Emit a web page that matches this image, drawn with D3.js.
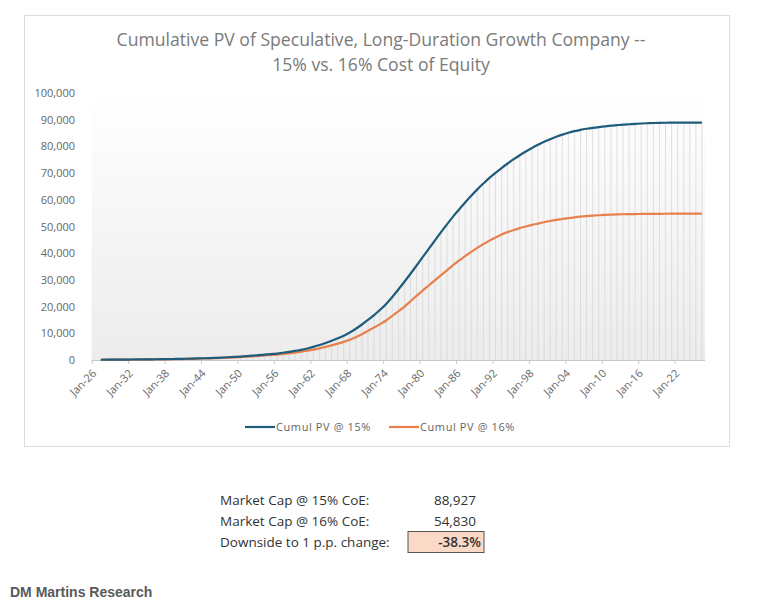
<!DOCTYPE html>
<html>
<head>
<meta charset="utf-8">
<script src="https://cdn.jsdelivr.net/npm/d3@7"></script>
<style>
  body { margin: 0; background: #fff; }
  svg { display: block; }
</style>
</head>
<body>
<div id="chart"></div>
<script>
// yearly data points, 2027 .. 2126
var startYear = 2027;
var years = d3.range(startYear, startYear + 100);

var pv15 = [
  100, 115, 130, 150, 165, 185, 205, 225, 250, 280,
  310, 340, 380, 420, 470, 520, 580, 650, 730, 820,
  920, 1030, 1160, 1300, 1460, 1630, 1820, 2020, 2220, 2420,
  2720, 3060, 3420, 3820, 4320, 4900, 5600, 6380, 7220, 8120,
  9100, 10300, 11700, 13300, 15000, 16800, 18800, 21000, 23600, 26400,
  29300, 32300, 35400, 38500, 41600, 44700, 47800, 50800, 53700, 56400,
  59000, 61500, 63900, 66100, 68200, 70100, 71900, 73600, 75200, 76700,
  78100, 79400, 80600, 81700, 82700, 83600, 84400, 85100, 85700, 86200,
  86600, 86950, 87250, 87500, 87750, 87950, 88150, 88300, 88450, 88580,
  88680, 88760, 88820, 88860, 88880, 88900, 88910, 88918, 88923, 88927
];

var pv16 = [
  90, 100, 115, 130, 145, 160, 175, 195, 215, 240,
  265, 290, 325, 360, 400, 445, 500, 560, 625, 700,
  780, 870, 980, 1100, 1230, 1370, 1520, 1680, 1840, 2000,
  2240, 2500, 2780, 3100, 3480, 3900, 4380, 4920, 5500, 6120,
  6800, 7600, 8550, 9650, 10900, 12150, 13450, 14800, 16500, 18200,
  20000, 22000, 24000, 26000, 27900, 29800, 31700, 33600, 35500, 37300,
  38900, 40500, 42000, 43400, 44700, 45900, 47000, 47900, 48700, 49400,
  50000, 50600, 51100, 51600, 52050, 52450, 52800, 53150, 53450, 53700,
  53900, 54080, 54220, 54340, 54440, 54520, 54580, 54630, 54670, 54700,
  54725, 54745, 54760, 54775, 54790, 54800, 54810, 54818, 54825, 54830
];

var xTicks = [2026, 2032, 2038, 2044, 2050, 2056, 2062, 2068, 2074, 2080, 2086, 2092, 2098, 2104, 2110, 2116, 2122];
var yTicks = [0, 10000, 20000, 30000, 40000, 50000, 60000, 70000, 80000, 90000, 100000];

var seriesNames = ['Cumul PV @ 15%', 'Cumul PV @ 16%'];
var seriesColors = ['#1f5c7c', '#e8804c'];

var titleLines = ['Cumulative  PV of Speculative, Long-Duration Growth Company --', '15% vs. 16% Cost of Equity'];

var tableLabels = ['Market Cap @ 15% CoE:', 'Market Cap @ 16% CoE:', 'Downside to 1 p.p. change:'];
var tableValues = ['88,927', '54,830', '-38.3%'];

var width = 784;
var height = 606;
var plotLeft = 91.7;
var plotRight = 705;
var plotTop = 93;
var plotBottom = 360;
var font = "'Open Sans', 'Liberation Sans', sans-serif";

var svg = d3.select('#chart').append('svg')
  .attr('width', width)
  .attr('height', height);

svg.append('rect')
  .attr('width', width)
  .attr('height', height)
  .attr('fill', '#fff');

// chart frame
svg.append('rect')
  .attr('x', 24.5)
  .attr('y', 15.5)
  .attr('width', 705)
  .attr('height', 431)
  .attr('fill', '#fff')
  .attr('stroke', '#dcdcdc');

var grad = svg.append('defs').append('linearGradient')
  .attr('id', 'plotBg')
  .attr('x1', 0).attr('y1', 0)
  .attr('x2', 0).attr('y2', 1);
grad.append('stop').attr('offset', '0%').attr('stop-color', '#ffffff');
grad.append('stop').attr('offset', '100%').attr('stop-color', '#ececec');

var x = d3.scaleLinear().domain([2026, 2127]).range([plotLeft, plotRight]);
var y = d3.scaleLinear().domain([0, 100000]).range([plotBottom, plotTop]);

svg.append('rect')
  .attr('x', plotLeft)
  .attr('y', plotTop)
  .attr('width', plotRight - plotLeft)
  .attr('height', plotBottom - plotTop)
  .attr('fill', 'url(#plotBg)');

var xPos = function (yr) {
  return x(yr + 0.5);
};

// title
svg.append('g').selectAll('text')
  .data(titleLines)
  .enter()
  .append('text')
  .attr('x', 381)
  .attr('y', function (d, i) { return 46 + i * 25; })
  .attr('text-anchor', 'middle')
  .attr('font-family', font)
  .attr('font-size', 17.6)
  .attr('fill', '#7a7a7a')
  .text(function (d) { return d; });

// drop lines
svg.append('g').selectAll('line')
  .data(years)
  .enter()
  .append('line')
  .attr('x1', function (d) { return xPos(d); })
  .attr('x2', function (d) { return xPos(d); })
  .attr('y1', function (d, i) { return y(Math.max(pv15[i], pv16[i])); })
  .attr('y2', plotBottom)
  .attr('stroke', '#d6d6d6')
  .attr('stroke-width', 0.75);

// y axis labels
var yAxis = d3.axisLeft(y)
  .tickValues(yTicks)
  .tickSize(0)
  .tickPadding(0)
  .tickFormat(d3.format(','));

svg.append('g')
  .attr('transform', 'translate(75,0)')
  .call(yAxis)
  .call(function (g) { g.select('.domain').remove(); })
  .selectAll('text')
  .attr('font-family', font)
  .attr('font-size', 11)
  .attr('fill', '#666');

// x axis
var xAxis = d3.axisBottom(x)
  .tickValues(xTicks)
  .tickSize(4)
  .tickFormat(function (d) { return 'Jan-' + String(d).slice(2); });

var gx = svg.append('g')
  .attr('transform', 'translate(0,' + plotBottom + ')')
  .call(xAxis);

gx.select('.domain')
  .attr('stroke', '#c8c8c8')
  .attr('d', 'M' + plotLeft + ',0.5H' + plotRight);
gx.selectAll('.tick line').attr('stroke', '#c8c8c8');
gx.selectAll('.tick text')
  .attr('font-family', font)
  .attr('font-size', 11)
  .attr('fill', '#666')
  .attr('text-anchor', 'end')
  .attr('dy', 0)
  .attr('y', 0)
  .attr('transform', 'translate(5,14) rotate(-45)');

// lines
var line = d3.line()
  .x(function (d, i) { return xPos(years[i]); })
  .y(function (d) { return y(d); })
  .curve(d3.curveMonotoneX);

[pv16, pv15].forEach(function (s, k) {
  svg.append('path')
    .datum(s)
    .attr('fill', 'none')
    .attr('stroke', seriesColors[1 - k])
    .attr('stroke-width', 2.2)
    .attr('stroke-linejoin', 'round')
    .attr('d', line);
});

// legend
var legendX = [245, 389];
var legend = svg.append('g').selectAll('g')
  .data(seriesNames)
  .enter()
  .append('g')
  .attr('transform', function (d, i) { return 'translate(' + legendX[i] + ',427)'; });

legend.append('line')
  .attr('x1', 0)
  .attr('x2', 30)
  .attr('stroke', function (d, i) { return seriesColors[i]; })
  .attr('stroke-width', 2.2);

legend.append('text')
  .attr('x', 31)
  .attr('dy', '0.35em')
  .attr('font-family', font)
  .attr('font-size', 11)
  .attr('letter-spacing', 0.6)
  .attr('fill', '#666')
  .text(function (d) { return d; });

// summary table
svg.append('rect')
  .attr('x', 408)
  .attr('y', 531.5)
  .attr('width', 76)
  .attr('height', 21)
  .attr('fill', '#fbd9c7')
  .attr('stroke', '#555');

var table = svg.append('g').attr('font-family', font).attr('font-size', 13.5).attr('fill', '#333');

table.selectAll('text.lbl')
  .data(tableLabels)
  .enter()
  .append('text')
  .attr('class', 'lbl')
  .attr('x', 220)
  .attr('y', function (d, i) { return 505 + i * 21; })
  .attr('fill', '#333')
  .text(function (d) { return d; });

table.selectAll('text.val')
  .data(tableValues)
  .enter()
  .append('text')
  .attr('class', 'val')
  .attr('x', function (d, i) { return i === 2 ? 481 : 476; })
  .attr('y', function (d, i) { return 505 + i * 21; })
  .attr('text-anchor', 'end')
  .attr('font-weight', function (d, i) { return i === 2 ? 600 : 400; })
  .attr('fill', '#333')
  .text(function (d) { return d; });

svg.append('text')
  .attr('x', 10)
  .attr('y', 597)
  .attr('font-family', "'Liberation Sans', Arial, sans-serif")
  .attr('font-size', 14)
  .attr('font-weight', 'bold')
  .attr('fill', '#595959')
  .text('DM Martins Research');
</script>
</body>
</html>
